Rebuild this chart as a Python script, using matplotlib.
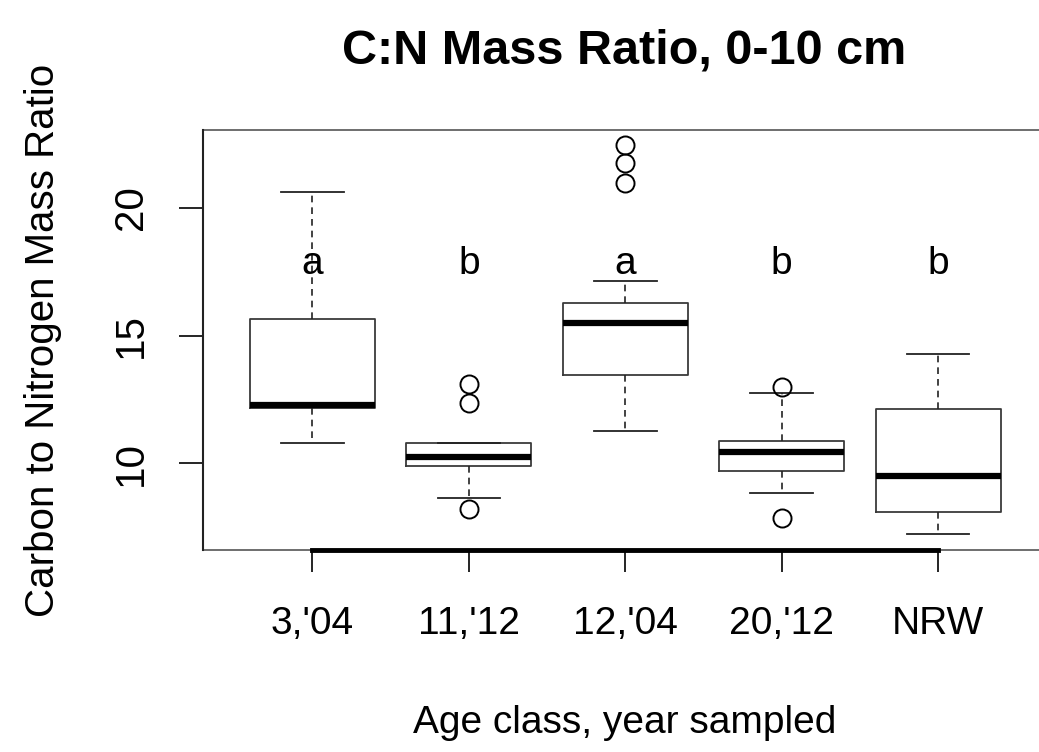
import matplotlib
matplotlib.use("Agg")
import matplotlib.pyplot as plt
from matplotlib.patches import Rectangle

plt.rcParams['font.family'] = ['Liberation Sans', 'DejaVu Sans']

# data
groups = ["3,'04", "11,'12", "12,'04", "20,'12", "NRW"]
medians = [12.27, 10.24, 15.49, 10.43, 9.49]
q1 = [12.15, 9.88, 13.45, 9.69, 8.08]
q3 = [15.65, 10.78, 16.27, 10.86, 12.12]
whis_lo = [10.78, 8.63, 11.25, 8.82, 7.20]
whis_hi = [20.63, 10.78, 17.14, 12.75, 14.27]
outliers = [[], [13.1, 12.35, 8.2], [22.47, 21.76, 21.0], [13.0, 7.84], []]
letters = ['a', 'b', 'a', 'b', 'b']
letter_y = 17.4

positions = list(range(1, len(groups) + 1))
stats = []
for i in range(len(groups)):
    stats.append({'med': medians[i], 'q1': q1[i], 'q3': q3[i],
                  'whislo': whis_lo[i], 'whishi': whis_hi[i],
                  'fliers': outliers[i]})

fig = plt.figure(figsize=(10.39, 7.52), dpi=100)
ax = fig.add_axes([203 / 1039, 1 - 550 / 752, (1046 - 203) / 1039, (550 - 130) / 752])

ax.bxp(stats, positions=positions, widths=0.8, capwidths=0.4,
       boxprops=dict(color='#3a3a3a', linewidth=1.3),
       medianprops=dict(color='black', linewidth=4.5, solid_capstyle='butt'),
       whiskerprops=dict(color='#222222', linewidth=1.2, linestyle=(0, (4, 3))),
       capprops=dict(color='#222222', linewidth=1.3),
       flierprops=dict(marker='o', markersize=13, markerfacecolor='none',
                       markeredgecolor='black', markeredgewidth=1.4))

for x, lab in zip(positions, letters):
    ax.text(x, letter_y, lab, ha='center', va='baseline', fontsize=28)

ax.set_xlim(0.3, 5.69)
ax.set_ylim(6.59, 23.06)
ax.set_yticks([10, 15, 20])
ax.set_yticklabels(['10', '15', '20'], rotation=90, va='center', fontsize=29)
ax.set_xticks(positions)
ax.set_xticklabels(groups, fontsize=28)
ax.tick_params(axis='y', length=17, width=1.2, pad=21)
ax.tick_params(axis='x', length=16, width=1.2, pad=24)

# frame like R's box()
for s in ['top', 'right']:
    ax.spines[s].set_visible(False)
ax.spines['left'].set_color('#222222')
ax.spines['left'].set_linewidth(1.5)
ax.spines['bottom'].set_bounds(positions[0], positions[-1])
ax.spines['bottom'].set_linewidth(3.5)
ax.add_patch(Rectangle((0, 0), 1, 1, transform=ax.transAxes, fill=False,
                       edgecolor='#555555', linewidth=1.2, clip_on=False))

ax.set_title('C:N Mass Ratio, 0-10 cm', fontsize=35, fontweight='bold', pad=48)
ax.set_xlabel('Age class, year sampled', fontsize=28, labelpad=46)
ax.set_ylabel('Carbon to Nitrogen Mass Ratio', fontsize=29, labelpad=36)

fig.savefig('out.png', dpi=100)
